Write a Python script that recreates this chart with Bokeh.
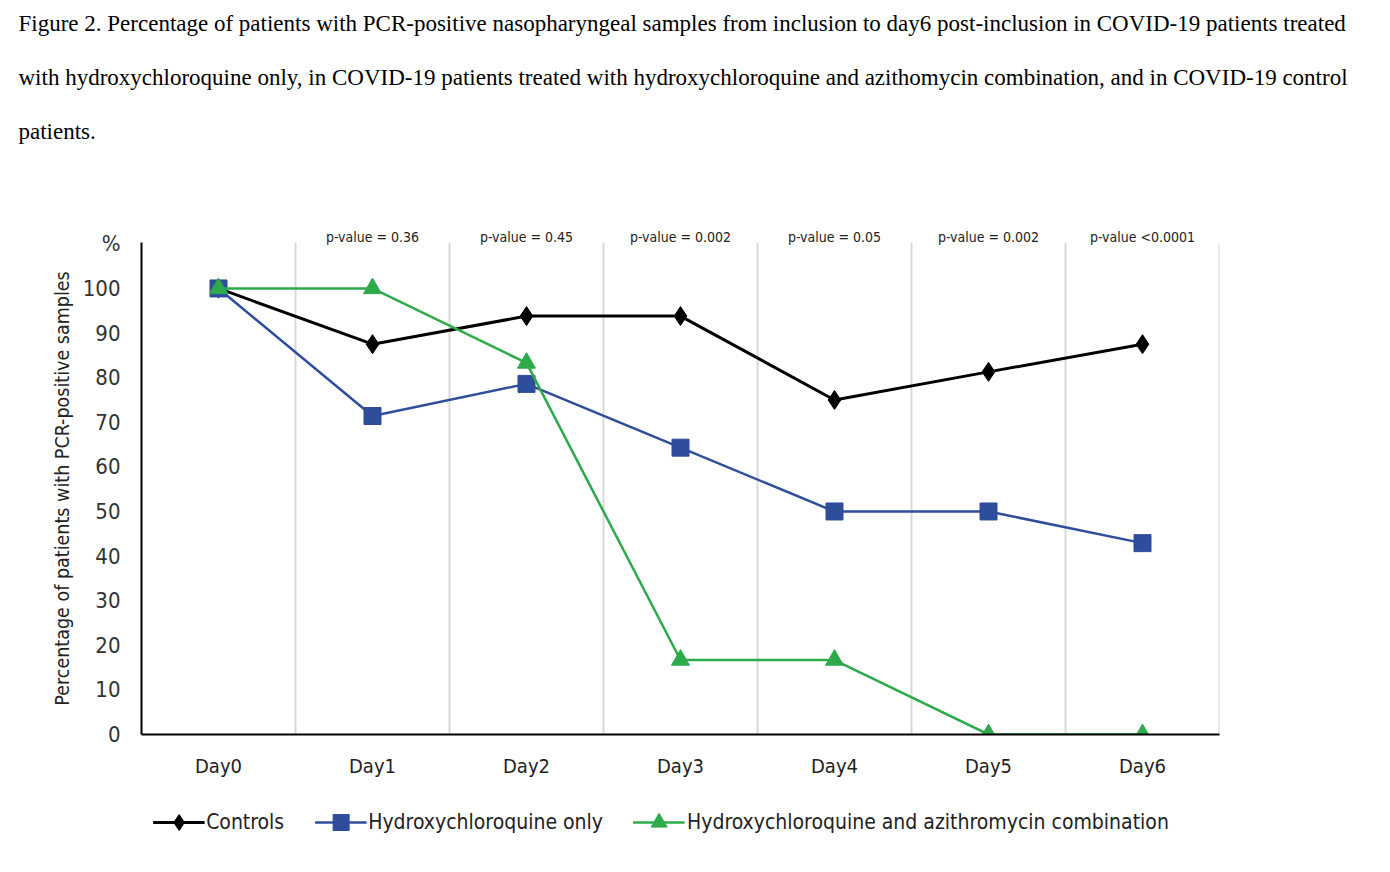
from bokeh.plotting import figure
from bokeh.layouts import column
from bokeh.models import Legend, LegendItem, FixedTicker, Range1d, LinearAxis, Title
from bokeh.embed import file_html
from bokeh.resources import INLINE

# ---- data ----
days = ["Day0", "Day1", "Day2", "Day3", "Day4", "Day5", "Day6"]
controls = [100, 87.5, 93.8, 93.8, 75.0, 81.3, 87.5]
hcq_only = [100, 71.4, 78.6, 64.3, 50.0, 50.0, 42.9]
hcq_azi = [100, 100, 83.3, 16.7, 16.7, 0, 0]
p_values = ["p-value = 0.36", "p-value = 0.45", "p-value = 0.002",
            "p-value = 0.05", "p-value = 0.002", "p-value <0.0001"]
y_ticks = list(range(0, 101, 10))
series_names = ["Controls", "Hydroxychloroquine only",
                "Hydroxychloroquine and azithromycin combination"]
caption = [
    "Figure 2. Percentage of patients with PCR-positive nasopharyngeal samples from inclusion to day6 post-inclusion in COVID-19 patients treated",
    "with hydroxychloroquine only, in COVID-19 patients treated with hydroxychloroquine and azithomycin combination, and in COVID-19 control",
    "patients.",
]

NARROW = "'DejaVu Sans Condensed', 'Liberation Sans Narrow', 'Liberation Sans', sans-serif"
SERIF = "'Liberation Serif', serif"

X0, X1 = -0.5, len(days) - 0.5
Y0, Y1 = 0, 110.3

p = figure(frame_width=1078, frame_height=492,
           x_range=Range1d(X0, X1), y_range=Range1d(Y0, Y1),
           output_backend="svg", toolbar_location=None,
           min_border_left=141, min_border_right=150,
           min_border_top=0, min_border_bottom=58)
p.outline_line_color = None
p.xgrid.visible = False
p.ygrid.visible = False

x = list(range(len(days)))
sep = [i + 0.5 for i in x]
p.segment(x0=sep, y0=[Y0] * len(sep), x1=sep, y1=[Y1] * len(sep),
          line_color="#d9d9d9", line_width=2)

BLACK = "#000000"
BLUE = "#2e4d9b"
GREEN = "#2eaa4b"
styles = [
    dict(color=BLACK, width=3, marker="diamond", size=19),
    dict(color=BLUE, width=2.5, marker="square", size=17),
    dict(color=GREEN, width=2.5, marker="triangle", size=18),
]

for vals, st in zip([controls, hcq_only, hcq_azi], styles):
    p.line(x, vals, line_color=st["color"], line_width=st["width"])
    p.scatter(x, vals, marker=st["marker"], size=st["size"], color=st["color"])

# bottom axis
p.xaxis.ticker = FixedTicker(ticks=x)
p.xaxis.major_label_overrides = {i: d for i, d in enumerate(days)}
p.xaxis.major_tick_line_color = None
p.xaxis.major_tick_out = 0
p.xaxis.major_tick_in = 0
p.xaxis.minor_tick_line_color = None
p.xaxis.axis_line_color = "black"
p.xaxis.axis_line_width = 2
p.xaxis.major_label_standoff = 19
p.xaxis.major_label_text_font = NARROW
p.xaxis.major_label_text_font_size = "20px"
p.xaxis.major_label_text_color = "#222222"

# left axis
p.yaxis.ticker = FixedTicker(ticks=y_ticks + [110])
p.yaxis.major_label_overrides = {110: "%"}
p.yaxis.major_tick_line_color = None
p.yaxis.major_tick_out = 0
p.yaxis.major_tick_in = 0
p.yaxis.minor_tick_line_color = None
p.yaxis.axis_line_color = "black"
p.yaxis.axis_line_width = 2
p.yaxis.major_label_standoff = 21
p.yaxis.major_label_text_font = NARROW
p.yaxis.major_label_text_font_size = "22px"
p.yaxis.major_label_text_color = "#333333"
p.yaxis.axis_label = "Percentage of patients with PCR-positive samples"
p.yaxis.axis_label_text_font = NARROW
p.yaxis.axis_label_text_font_style = "normal"
p.yaxis.axis_label_text_font_size = "19.5px"
p.yaxis.axis_label_text_color = "#222222"
p.yaxis.axis_label_standoff = 6

# p-value axis on top
top = LinearAxis(ticker=FixedTicker(ticks=x[1:]),
                 major_label_overrides={i: pv for i, pv in zip(x[1:], p_values)})
top.axis_line_color = None
top.major_tick_line_color = None
top.major_tick_out = 0
top.major_tick_in = 0
top.minor_tick_line_color = None
top.major_label_standoff = -2
top.major_label_text_font = NARROW
top.major_label_text_font_size = "14px"
top.major_label_text_color = "#222222"
p.add_layout(top, "above")

# spacer between caption and p-values
p.add_layout(Title(text=" ", standoff=60, text_font_size="10px"), "above")

# caption (added inner to outer)
standoffs = [17, 37, 17]
for line, so in reversed(list(zip(caption, standoffs))):
    p.add_layout(Title(text=line, align="left", offset=-123, standoff=so,
                       text_font=SERIF, text_font_size="23px",
                       text_font_style="normal", text_color="#000000"), "above")

# legend strip below the chart (legend-only renderers hold no visible points)
lg = figure(width=1330, height=60, x_range=Range1d(0, 1), y_range=Range1d(0, 1),
            output_backend="svg", toolbar_location=None,
            min_border_left=0, min_border_right=0, min_border_top=0, min_border_bottom=0)
lg.axis.visible = False
lg.grid.visible = False
lg.outline_line_color = None
nan = float("nan")
items = []
for name, st in zip(series_names, styles):
    rl = lg.line([nan], [nan], line_color=st["color"], line_width=st["width"])
    rs = lg.scatter([nan], [nan], marker=st["marker"], size=st["size"], color=st["color"])
    items.append(LegendItem(label=name, renderers=[rl, rs]))
legend = Legend(items=items, orientation="horizontal", location="center")
legend.border_line_color = None
legend.background_fill_alpha = 0
legend.label_text_font = NARROW
legend.label_text_font_size = "21px"
legend.label_text_color = "#222222"
legend.glyph_width = 52
legend.glyph_height = 40
legend.label_standoff = 2
legend.spacing = 30
legend.padding = 2
legend.margin = 0
lg.add_layout(legend, "center")

layout = column(p, lg, spacing=0)
open("out.html", "w").write(file_html(layout, INLINE))
